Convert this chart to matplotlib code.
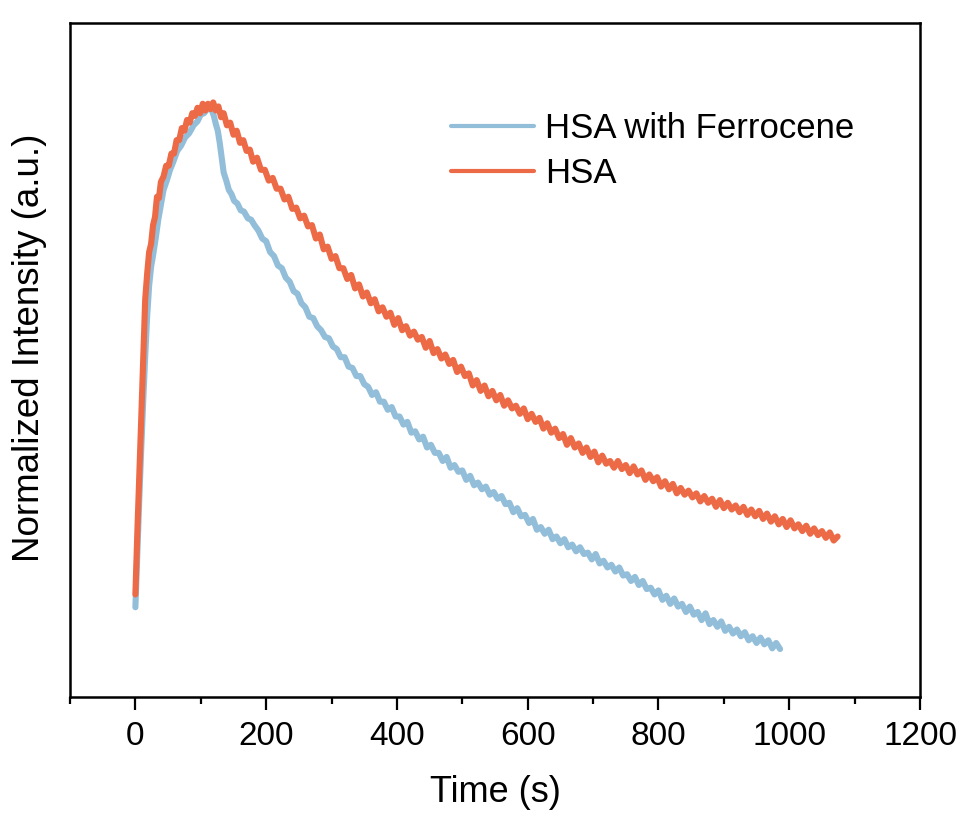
import matplotlib
matplotlib.use("Agg")
import matplotlib.pyplot as plt
from matplotlib.ticker import MultipleLocator

plt.rcParams['font.family'] = ['Liberation Sans', 'DejaVu Sans']

series_labels = ["HSA with Ferrocene", "HSA"]

# HSA with Ferrocene
t_fc = [0, 3, 6, 9, 12, 15, 18, 21, 24, 27, 31, 35, 39, 43, 48, 53, 58, 64, 70, 76, 82, 89, 95, 100, 105, 110, 114, 117,
        120, 123, 126, 129, 132, 135, 139, 143, 147, 151, 156, 161, 166, 172, 177, 182, 188, 194, 200, 206, 212, 218, 224,
        230, 236, 242, 248, 254, 260, 266, 272, 278, 284, 290, 296, 302, 308, 314, 320, 326, 332, 338, 344, 350, 356, 362,
        368, 374, 380, 386, 392, 398, 404, 410, 416, 422, 428, 434, 440, 446, 452, 458, 464, 470, 476, 482, 488, 494, 500,
        506, 512, 518, 524, 530, 536, 542, 548, 554, 560, 566, 572, 578, 584, 590, 596, 602, 608, 614, 620, 626, 632, 638,
        644, 650, 656, 662, 668, 674, 680, 686, 692, 698, 704, 710, 716, 722, 728, 734, 740, 746, 752, 758, 764, 770, 776,
        782, 788, 794, 800, 806, 812, 818, 824, 830, 836, 842, 848, 854, 860, 866, 872, 878, 884, 890, 896, 902, 908, 914,
        920, 926, 932, 938, 944, 950, 956, 962, 968, 974, 980, 986]
y_fc = [0.133, 0.215, 0.295, 0.370, 0.440, 0.505, 0.565, 0.610, 0.638, 0.655, 0.680, 0.708, 0.730, 0.752, 0.766, 0.782,
        0.794, 0.810, 0.818, 0.830, 0.836, 0.848, 0.854, 0.864, 0.866, 0.872, 0.876, 0.870, 0.862, 0.850, 0.840, 0.822,
        0.800, 0.778, 0.766, 0.752, 0.746, 0.736, 0.732, 0.722, 0.720, 0.710, 0.708, 0.700, 0.692, 0.680, 0.676, 0.660,
        0.654, 0.640, 0.636, 0.622, 0.616, 0.602, 0.598, 0.584, 0.578, 0.564, 0.562, 0.550, 0.544, 0.534, 0.532, 0.520,
        0.516, 0.504, 0.504, 0.490, 0.488, 0.476, 0.476, 0.464, 0.460, 0.448, 0.452, 0.438, 0.438, 0.426, 0.430, 0.416,
        0.416, 0.404, 0.408, 0.392, 0.394, 0.382, 0.386, 0.370, 0.374, 0.362, 0.362, 0.350, 0.356, 0.340, 0.344, 0.334,
        0.336, 0.322, 0.328, 0.314, 0.318, 0.308, 0.312, 0.300, 0.304, 0.294, 0.298, 0.286, 0.288, 0.274, 0.280, 0.268,
        0.270, 0.258, 0.264, 0.248, 0.252, 0.242, 0.248, 0.234, 0.238, 0.228, 0.234, 0.222, 0.226, 0.216, 0.222, 0.212,
        0.214, 0.204, 0.212, 0.198, 0.202, 0.192, 0.196, 0.186, 0.192, 0.180, 0.182, 0.172, 0.178, 0.166, 0.172, 0.160,
        0.162, 0.152, 0.158, 0.144, 0.150, 0.138, 0.146, 0.134, 0.138, 0.126, 0.134, 0.122, 0.126, 0.114, 0.124, 0.108,
        0.114, 0.104, 0.112, 0.098, 0.104, 0.094, 0.100, 0.090, 0.096, 0.084, 0.090, 0.080, 0.088, 0.078, 0.084, 0.072,
        0.080, 0.071]

# HSA
t_hsa = [0, 3, 6, 9, 12, 15, 18, 21, 24, 27, 30, 33, 36, 39, 43, 47, 51, 55, 59, 63, 67, 71, 75, 79, 83, 87, 91, 95, 99,
         103, 107, 111, 115, 119, 123, 127, 131, 135, 140, 145, 150, 155, 160, 165, 170, 175, 180, 186, 192, 198, 204, 210,
         216, 222, 228, 234, 240, 246, 252, 258, 264, 270, 276, 282, 288, 294, 300, 306, 312, 318, 324, 330, 336, 342, 348,
         354, 360, 366, 372, 378, 384, 390, 396, 402, 408, 414, 420, 426, 432, 438, 444, 450, 456, 462, 468, 474, 480, 486,
         492, 498, 504, 510, 516, 522, 528, 534, 540, 546, 552, 558, 564, 570, 576, 582, 588, 594, 600, 606, 612, 618, 624,
         630, 636, 642, 648, 654, 660, 666, 672, 678, 684, 690, 696, 702, 708, 714, 720, 726, 732, 738, 744, 750, 756, 762,
         768, 774, 780, 786, 792, 798, 804, 810, 816, 822, 828, 834, 840, 846, 852, 858, 864, 870, 876, 882, 888, 894, 900,
         906, 912, 918, 924, 930, 936, 942, 948, 954, 960, 966, 972, 978, 984, 990, 996, 1002, 1008, 1014, 1020, 1026, 1032,
         1038, 1044, 1050, 1056, 1062, 1068, 1074]
y_hsa = [0.152, 0.245, 0.330, 0.415, 0.505, 0.590, 0.628, 0.660, 0.672, 0.700, 0.712, 0.742, 0.740, 0.764, 0.772, 0.788,
         0.788, 0.806, 0.806, 0.826, 0.826, 0.844, 0.840, 0.856, 0.852, 0.866, 0.862, 0.874, 0.866, 0.880, 0.870, 0.880,
         0.872, 0.882, 0.870, 0.876, 0.860, 0.866, 0.848, 0.852, 0.834, 0.840, 0.822, 0.826, 0.810, 0.812, 0.794, 0.800,
         0.782, 0.782, 0.766, 0.770, 0.754, 0.754, 0.738, 0.742, 0.724, 0.726, 0.710, 0.714, 0.698, 0.700, 0.680, 0.686,
         0.664, 0.668, 0.650, 0.654, 0.636, 0.636, 0.620, 0.626, 0.606, 0.612, 0.594, 0.600, 0.584, 0.590, 0.572, 0.578,
         0.564, 0.570, 0.552, 0.562, 0.544, 0.550, 0.536, 0.542, 0.530, 0.534, 0.518, 0.528, 0.510, 0.516, 0.502, 0.508,
         0.494, 0.500, 0.482, 0.490, 0.476, 0.480, 0.462, 0.470, 0.454, 0.462, 0.446, 0.454, 0.440, 0.448, 0.432, 0.440,
         0.428, 0.432, 0.420, 0.428, 0.412, 0.420, 0.408, 0.414, 0.398, 0.406, 0.392, 0.398, 0.384, 0.390, 0.374, 0.384,
         0.370, 0.376, 0.362, 0.370, 0.356, 0.364, 0.348, 0.358, 0.346, 0.350, 0.340, 0.350, 0.338, 0.344, 0.332, 0.342,
         0.330, 0.336, 0.322, 0.330, 0.320, 0.326, 0.312, 0.320, 0.308, 0.316, 0.302, 0.310, 0.300, 0.306, 0.296, 0.302,
         0.290, 0.298, 0.288, 0.294, 0.282, 0.292, 0.280, 0.288, 0.278, 0.284, 0.274, 0.282, 0.270, 0.278, 0.268, 0.276,
         0.264, 0.272, 0.260, 0.268, 0.256, 0.264, 0.252, 0.262, 0.250, 0.256, 0.246, 0.254, 0.242, 0.250, 0.240, 0.246,
         0.236, 0.244, 0.232, 0.238]

colors = ["#93BEDA", "#ED6A47"]

fig = plt.figure(figsize=(9.67, 8.17), dpi=100)
ax = fig.add_axes([0.0724, 0.147, 0.879, 0.825])

ax.plot(t_fc, y_fc, color=colors[0], lw=4.4, label=series_labels[0], solid_joinstyle='round', solid_capstyle='round')
ax.plot(t_hsa, y_hsa, color=colors[1], lw=4.4, label=series_labels[1], solid_joinstyle='round', solid_capstyle='round')

ax.set_xlim(-100, 1200)
ax.set_ylim(0, 1)
ax.xaxis.set_major_locator(MultipleLocator(200))
ax.xaxis.set_minor_locator(MultipleLocator(100))
ax.set_yticks([])
ax.tick_params(axis='x', which='major', direction='out', length=9, width=1.6, labelsize=24, pad=8, top=False)
ax.tick_params(axis='x', which='minor', direction='out', length=5, width=1.6, top=False)
for sp in ax.spines.values():
    sp.set_linewidth(1.8)

ax.set_xlabel("Time (s)", fontsize=26, labelpad=17)
ax.set_ylabel("Normalized Intensity (a.u.)", fontsize=26.5)
ax.yaxis.set_label_coords(-0.027, 0.518)

leg = ax.legend(loc='upper left', bbox_to_anchor=(0.448, 0.868), frameon=False, fontsize=25,
                handlelength=2.4, handletextpad=0.32, labelspacing=0.36, borderpad=0, borderaxespad=0)
for h in leg.get_lines():
    h.set_linewidth(3.0)

fig.savefig("out.png", dpi=100)
